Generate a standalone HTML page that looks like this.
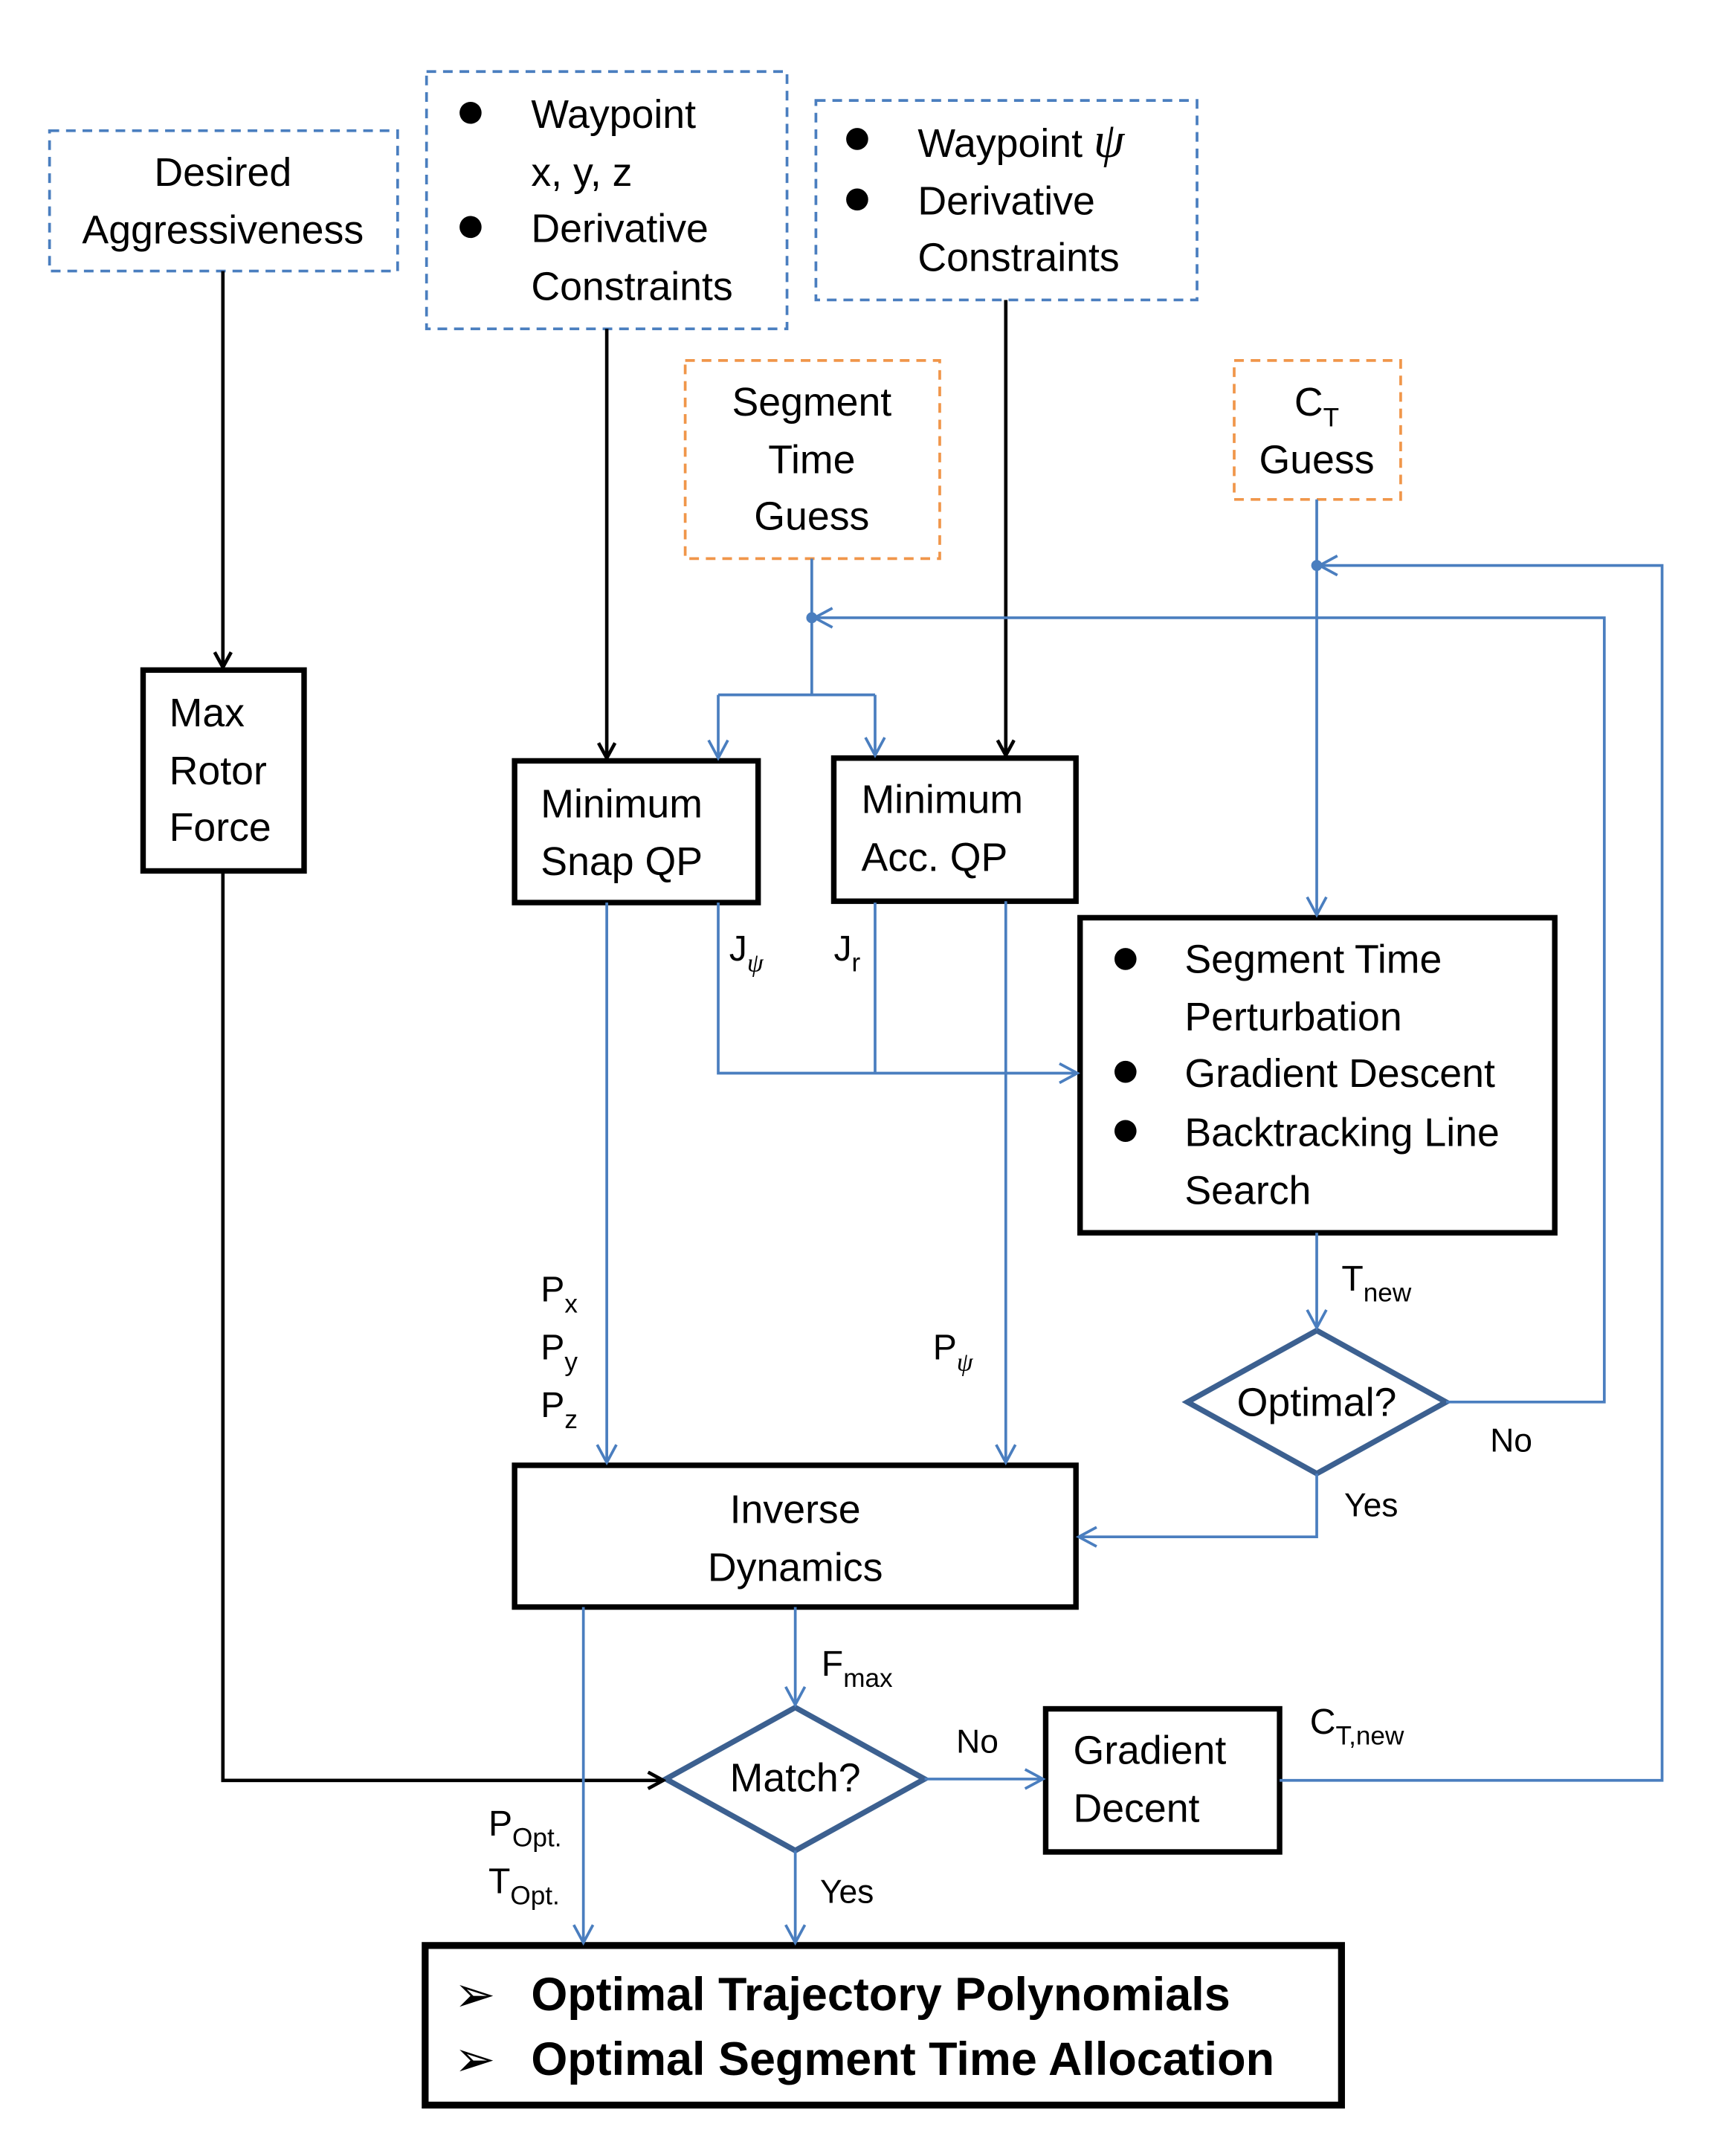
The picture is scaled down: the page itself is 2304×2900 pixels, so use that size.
<!DOCTYPE html>
<html><head><meta charset="utf-8"><style>
html,body{margin:0;padding:0;background:#fff;}
svg{display:block;}
text{font-family:"Liberation Sans",sans-serif;font-size:29px;fill:#000;}
.s{font-size:19px;}
.b{font-weight:bold;font-size:34px;}
</style></head><body>
<svg width="2304" height="2900" viewBox="0 0 1245 1567" preserveAspectRatio="none" xmlns="http://www.w3.org/2000/svg">
<defs>
<marker id="ab" markerWidth="14" markerHeight="14" refX="12" refY="7" orient="auto" markerUnits="userSpaceOnUse"><path d="M1,1 L12,7 L1,13" fill="none" stroke="#000" stroke-width="2.5"/></marker>
<marker id="au" markerWidth="16" markerHeight="16" refX="14" refY="8" orient="auto" markerUnits="userSpaceOnUse"><path d="M1,1 L14,8 L1,15" fill="none" stroke="#4a7ebf" stroke-width="2"/></marker>
</defs>
<rect width="1245" height="1567" fill="#fff"/>
<g fill="none" stroke-width="2" stroke-dasharray="7,5">
<rect x="36" y="95" width="253" height="102" stroke="#4a7ebf"/>
<rect x="310" y="52" width="262" height="187" stroke="#4a7ebf"/>
<rect x="593" y="73" width="277" height="145" stroke="#4a7ebf"/>
<rect x="498" y="262" width="185" height="144" stroke="#f0964a"/>
<rect x="897" y="262" width="121" height="101" stroke="#f0964a"/>
</g>
<g fill="none" stroke="#000" stroke-width="4">
<rect x="104" y="487" width="117" height="146"/>
<rect x="374" y="553" width="177" height="103"/>
<rect x="606" y="551" width="176" height="104"/>
<rect x="785" y="667" width="345" height="229"/>
<rect x="374" y="1065" width="408" height="103"/>
<rect x="760" y="1242" width="170" height="104"/>
<rect x="309" y="1414" width="666" height="116" stroke-width="5"/>
</g>
<g fill="#fff" stroke="#3c6090" stroke-width="4">
<polygon points="863,1019 957,967 1051,1019 957,1071"/>
<polygon points="484,1293 578,1241 672,1293 578,1345"/>
</g>
<g stroke="#000" stroke-width="2.5" fill="none">
<path d="M162,197 V485" marker-end="url(#ab)"/>
<path d="M441,239 V551" marker-end="url(#ab)"/>
<path d="M731,218 V549" marker-end="url(#ab)"/>
<path d="M162,633 V1294 H482" marker-end="url(#ab)"/>
</g>
<g stroke="#4a7ebf" stroke-width="2" fill="none">
<path d="M590,406 V505 M522,505 H636"/>
<path d="M522,505 V551" marker-end="url(#au)"/>
<path d="M636,505 V549" marker-end="url(#au)"/>
<path d="M1051,1019 H1166 V449 H592" marker-end="url(#au)"/>
<path d="M957,363 V665" marker-end="url(#au)"/>
<path d="M930,1294 H1208 V411 H959" marker-end="url(#au)"/>
<path d="M441,656 V1063" marker-end="url(#au)"/>
<path d="M731,655 V1063" marker-end="url(#au)"/>
<path d="M522,656 V780 H783" marker-end="url(#au)"/>
<path d="M636,656 V780"/>
<path d="M957,896 V965" marker-end="url(#au)"/>
<path d="M957,1071 V1117 H784" marker-end="url(#au)"/>
<path d="M578,1168 V1239" marker-end="url(#au)"/>
<path d="M424,1168 V1412" marker-end="url(#au)"/>
<path d="M578,1345 V1412" marker-end="url(#au)"/>
<path d="M672,1293 H758" marker-end="url(#au)"/>
</g>
<circle cx="590" cy="449" r="4" fill="#4a7ebf"/>
<circle cx="957" cy="411" r="4" fill="#4a7ebf"/>
<g text-anchor="middle">
<text x="162" y="135">Desired</text>
<text x="162" y="177">Aggressiveness</text>
<text x="590" y="302">Segment</text>
<text x="590" y="344">Time</text>
<text x="590" y="385">Guess</text>
<text x="957" y="302">C<tspan class="s" dy="8">T</tspan></text>
<text x="957" y="344">Guess</text>
<text x="578" y="1107">Inverse</text>
<text x="578" y="1149">Dynamics</text>
<text x="957" y="1029">Optimal?</text>
<text x="578" y="1302">Match?</text>
</g>
<g>
<circle cx="342" cy="82" r="8"/><circle cx="342" cy="165" r="8"/>
<text x="386" y="93">Waypoint</text>
<text x="386" y="135">x, y, z</text>
<text x="386" y="176">Derivative</text>
<text x="386" y="218">Constraints</text>
<circle cx="623" cy="101" r="8"/><circle cx="623" cy="145" r="8"/>
<text x="667" y="114">Waypoint <tspan font-family="Liberation Serif" font-style="italic" style="font-size:36px">ψ</tspan></text>
<text x="667" y="156">Derivative</text>
<text x="667" y="197">Constraints</text>
<text x="123" y="528">Max</text>
<text x="123" y="570">Rotor</text>
<text x="123" y="611">Force</text>
<text x="393" y="594">Minimum</text>
<text x="393" y="636">Snap QP</text>
<text x="626" y="591">Minimum</text>
<text x="626" y="633">Acc. QP</text>
<circle cx="818" cy="697" r="8"/><circle cx="818" cy="779" r="8"/><circle cx="818" cy="822" r="8"/>
<text x="861" y="707">Segment Time</text>
<text x="861" y="749">Perturbation</text>
<text x="861" y="790">Gradient Descent</text>
<text x="861" y="833">Backtracking Line</text>
<text x="861" y="875">Search</text>
<text x="780" y="1282">Gradient</text>
<text x="780" y="1324">Decent</text>
<text x="330" y="1462" style="font-size:36px">➢</text>
<text x="330" y="1509" style="font-size:36px">➢</text>
<text class="b" x="386" y="1461">Optimal Trajectory Polynomials</text>
<text class="b" x="386" y="1508">Optimal Segment Time Allocation</text>
<text x="530" y="698" style="font-size:26px">J<tspan class="s" dy="8" font-family="Liberation Serif" font-style="italic">ψ</tspan></text>
<text x="606" y="698" style="font-size:26px">J<tspan class="s" dy="8">r</tspan></text>
<text x="393" y="946" style="font-size:26px">P<tspan class="s" dy="8">x</tspan></text>
<text x="393" y="988" style="font-size:26px">P<tspan class="s" dy="8">y</tspan></text>
<text x="393" y="1030" style="font-size:26px">P<tspan class="s" dy="8">z</tspan></text>
<text x="678" y="988" style="font-size:26px">P<tspan class="s" dy="8" font-family="Liberation Serif" font-style="italic">ψ</tspan></text>
<text x="975" y="938" style="font-size:26px">T<tspan class="s" dy="8">new</tspan></text>
<text x="1083" y="1055" style="font-size:24px">No</text>
<text x="977" y="1102" style="font-size:24px">Yes</text>
<text x="597" y="1218" style="font-size:26px">F<tspan class="s" dy="8">max</tspan></text>
<text x="695" y="1274" style="font-size:24px">No</text>
<text x="596" y="1383" style="font-size:24px">Yes</text>
<text x="952" y="1260" style="font-size:26px">C<tspan class="s" dy="8">T,new</tspan></text>
<text x="355" y="1334" style="font-size:26px">P<tspan class="s" dy="8">Opt.</tspan></text>
<text x="355" y="1376" style="font-size:26px">T<tspan class="s" dy="8">Opt.</tspan></text>
</g>
</svg>
</body></html>
